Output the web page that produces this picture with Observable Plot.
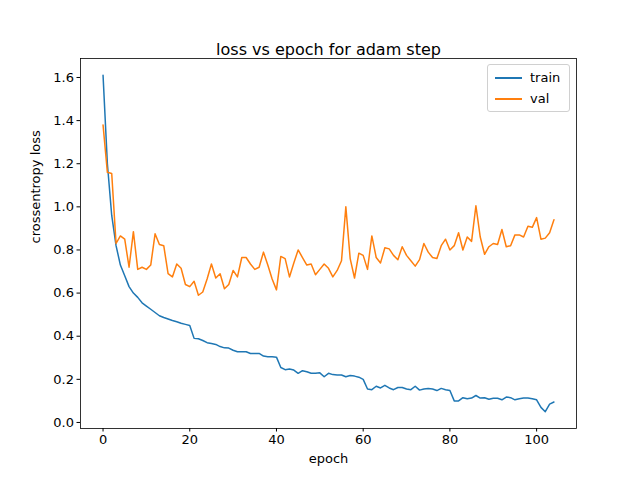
<!DOCTYPE html>
<html><head><meta charset="utf-8">
<script src="https://cdn.jsdelivr.net/npm/d3@7"></script>
<script src="https://cdn.jsdelivr.net/npm/@observablehq/plot@0.6"></script>
<style>
body{margin:0;background:#fff;font-family:"DejaVu Sans",sans-serif;}
#wrap{position:relative;width:640px;height:480px;}
#legend{position:absolute;left:487px;top:64px;width:81px;border:1px solid #d0d0d0;border-radius:3px;background:#fff;font-size:13px;padding:2px 0;}
#legend div{display:flex;align-items:center;height:21px;}
#legend span.sw{display:inline-block;width:27px;height:2px;margin:0 8px 0 7px;}
</style></head>
<body><div id="wrap"><div id="chart"></div>
<div id="legend"><div><span class="sw" style="background:#1f77b4"></span>train</div><div><span class="sw" style="background:#ff7f0e"></span>val</div></div></div>
<script>
const train = [1.61,1.2,0.96,0.82,0.73,0.68,0.63,0.60,0.58,0.555,0.54,0.525,0.51,0.495,0.487,0.48,0.473,0.467,0.46,0.455,0.45,0.39,0.388,0.38,0.37,0.366,0.362,0.352,0.346,0.345,0.335,0.328,0.328,0.328,0.32,0.32,0.32,0.308,0.305,0.305,0.303,0.255,0.245,0.248,0.243,0.228,0.24,0.235,0.228,0.228,0.23,0.212,0.228,0.222,0.22,0.22,0.212,0.218,0.215,0.21,0.2,0.155,0.152,0.168,0.16,0.172,0.16,0.152,0.162,0.162,0.155,0.152,0.168,0.15,0.155,0.158,0.155,0.148,0.158,0.152,0.148,0.1,0.1,0.115,0.11,0.113,0.125,0.113,0.115,0.108,0.112,0.112,0.105,0.118,0.115,0.105,0.11,0.113,0.113,0.11,0.105,0.07,0.05,0.085,0.095,0.08].slice(0,105);
const val = [1.38,1.16,1.155,0.83,0.865,0.85,0.72,0.885,0.71,0.72,0.71,0.73,0.875,0.825,0.82,0.69,0.675,0.735,0.715,0.64,0.63,0.655,0.59,0.605,0.665,0.735,0.67,0.69,0.62,0.64,0.705,0.675,0.765,0.765,0.735,0.71,0.72,0.79,0.73,0.665,0.615,0.77,0.76,0.675,0.74,0.8,0.765,0.73,0.735,0.685,0.71,0.735,0.715,0.675,0.705,0.75,1.0,0.76,0.67,0.785,0.775,0.71,0.865,0.765,0.74,0.81,0.805,0.775,0.755,0.815,0.775,0.75,0.725,0.755,0.83,0.79,0.765,0.76,0.82,0.85,0.8,0.82,0.88,0.8,0.86,0.84,1.005,0.86,0.78,0.815,0.83,0.825,0.895,0.815,0.82,0.87,0.87,0.86,0.91,0.905,0.95,0.85,0.855,0.88,0.94];
const xTicks = [0,20,40,60,80,100];
const yTicks = [0,0.2,0.4,0.6,0.8,1.0,1.2,1.4,1.6];

const rows = [];
train.forEach((v,i)=>rows.push({epoch:i,loss:v,series:"train"}));
val.forEach((v,i)=>rows.push({epoch:i,loss:v,series:"val"}));

const chart = Plot.plot({
  width:640, height:480,
  marginLeft:80, marginRight:64, marginTop:58, marginBottom:52,
  style:{fontFamily:"DejaVu Sans", fontSize:"13px", color:"#000", background:"#fff"},
  x:{domain:[-5.2,109.2]},
  y:{domain:[-0.028,1.688]},
  color:{domain:["train","val"], range:["#1f77b4","#ff7f0e"]},
  marks:[
    Plot.line(rows,{x:"epoch",y:"loss",stroke:"series",strokeWidth:1.5}),
    Plot.frame({stroke:"#000",strokeWidth:0.8}),
    Plot.axisX({ticks:xTicks,tickSize:3.5,tickPadding:3,fontSize:13,label:null}),
    Plot.axisY({ticks:yTicks,tickSize:3.5,tickPadding:3,fontSize:13,tickFormat:d3.format(".1f"),label:null}),
    Plot.text(["epoch"],{frameAnchor:"bottom",dy:34,fontSize:13}),
    Plot.text(["crossentropy loss"],{frameAnchor:"left",dx:-45,rotate:-90,fontSize:13}),
    Plot.text(["loss vs epoch for adam step"],{frameAnchor:"top",dy:-15,fontSize:16})
  ]
});
d3.select("#chart").append(()=>chart);
</script></body></html>
